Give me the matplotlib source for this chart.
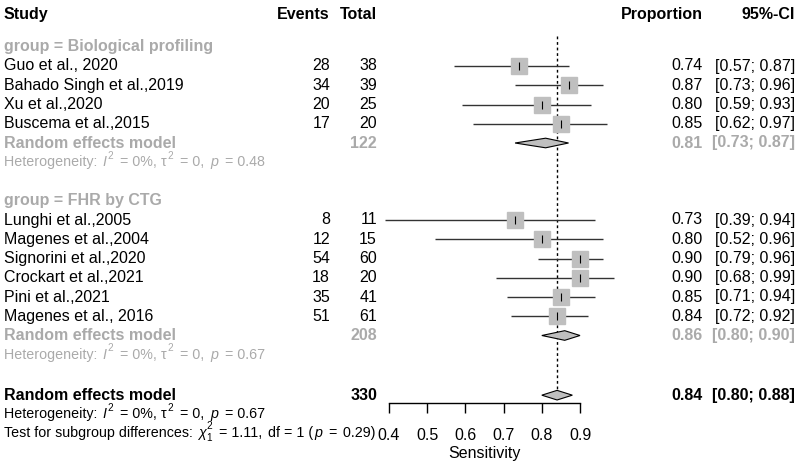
import numpy as np
import matplotlib.pyplot as plt

plt.rcParams['font.family'] = ['Liberation Sans', 'DejaVu Sans']

# group 1: biological profiling
study1 = ["Guo et al., 2020", "Bahado Singh et al.,2019", "Xu et al.,2020", "Buscema et al.,2015"]
events1 = [28, 34, 20, 17]
total1 = [38, 39, 25, 20]
prop1 = [0.74, 0.87, 0.80, 0.85]
lo1 = [0.57, 0.73, 0.59, 0.62]
hi1 = [0.87, 0.96, 0.93, 0.97]
re1 = [0.81, 0.73, 0.87]
n1 = 122
p_het1 = "0.48"

# group 2: FHR by CTG
study2 = ["Lunghi et al.,2005", "Magenes et al.,2004", "Signorini et al.,2020",
          "Crockart et al.,2021", "Pini et al.,2021", "Magenes et al., 2016"]
events2 = [8, 12, 54, 18, 35, 51]
total2 = [11, 15, 60, 20, 41, 61]
prop2 = [0.73, 0.80, 0.90, 0.90, 0.85, 0.84]
lo2 = [0.39, 0.52, 0.79, 0.68, 0.71, 0.72]
hi2 = [0.94, 0.96, 0.96, 0.99, 0.94, 0.92]
re2 = [0.86, 0.80, 0.90]
n2 = 208
p_het2 = "0.67"

# overall
re_all = [0.84, 0.80, 0.88]
n_all = 330
p_het_all = "0.67"
chi2 = "1.11"
df = 1
p_sub = "0.29"

xticks = [0.4, 0.5, 0.6, 0.7, 0.8, 0.9]

W, H = 797, 466
GREY = '#aaaaaa'
BOX = '#bfbfbf'
FS = 11.5
FS_HET = 10.3

fig = plt.figure(figsize=(W / 100, H / 100), dpi=100)
ax = fig.add_axes([0, 0, 1, 1])
# 0.4 -> 389 px, 0.9 -> 580 px ; row r -> 66 + 19.25 r px
sx = (580 - 389) / 0.5
ax.set_xlim(0.4 - 389 / sx, 0.4 + (W - 389) / sx)
ax.set_ylim((H - 66) / 19.25, -66 / 19.25)
ax.patch.set_alpha(0)


def col(xpx):
    return xpx / W


def txt(xpx, r, s, ha='left', color='black', weight='normal', size=FS):
    return ax.text(col(xpx), r, s, ha=ha, va='center', color=color, fontweight=weight,
                   fontsize=size, transform=ax.get_yaxis_transform())


def rich(xpx, r, pieces, color, size=FS_HET):
    """Text made of pieces: (string, kind, pad in px) with kind n / it / sup / supsub."""
    base = txt(xpx, r, pieces[0][0], color=color, size=size)
    prev = base
    small = size * 0.7
    up = size * 0.58
    for s, kind, pad in pieces[1:]:
        dx = pad * 0.72
        kw = dict(xy=(1, 0), xycoords=(prev, base), textcoords='offset points',
                  va='bottom', ha='left', color=color, annotation_clip=False)
        if kind in ('n', 'it'):
            prev = ax.annotate(s, xytext=(dx, 0), fontsize=size,
                               fontstyle='italic' if kind == 'it' else 'normal', **kw)
        elif kind == 'sup':
            prev = ax.annotate(s, xytext=(dx, up), fontsize=small, **kw)
        else:
            sup, sub = s
            ax.annotate(sub, xytext=(dx, -0.2 * size), fontsize=small, **kw)
            prev = ax.annotate(sup, xytext=(dx, up), fontsize=small, **kw)


def ci_str(est, lo, hi):
    return f"{est:.2f}", f"[{lo:.2f}; {hi:.2f}]"


def diamond(r, est, lo, hi):
    h = 0.25
    ax.fill([lo, est, hi, est], [r, r - h, r, r + h], facecolor=BOX,
            edgecolor='black', lw=0.8, zorder=3)


def het(r, p, color):
    rich(4, r, [("Heterogeneity: ", 'n', 0), ("I", 'it', 1), ("2", 'sup', 1.5),
                (" = 0%, ", 'n', 2.5), ("\u03c4", 'n', 0), ("2", 'sup', 1),
                (" = 0, ", 'n', 2.5), ("p", 'it', 2), (" = " + p, 'n', 3)], color)


def group(r0, label, studies, ev, tot, pr, lo, hi, re, n, p):
    txt(4, r0 - 1, label, color=GREY, weight='bold')
    rows = r0 + np.arange(len(studies))
    for r, s, e, t, est, l, h in zip(rows, studies, ev, tot, pr, lo, hi):
        txt(4, r, s)
        txt(330, r, str(e), ha='right')
        txt(377, r, str(t), ha='right')
        a, b = ci_str(est, l, h)
        txt(703, r, a, ha='right')
        txt(795, r, b, ha='right')
    ax.hlines(rows, lo, hi, color='#333333', lw=1, zorder=2)
    ax.plot(pr, rows, 's', ms=11, color=BOX, zorder=3)
    ax.plot(pr, rows, '|', ms=6, mew=0.8, color='black', zorder=4)
    rr = r0 + len(studies)
    txt(4, rr, "Random effects model", color=GREY, weight='bold')
    txt(377, rr, str(n), ha='right', color=GREY, weight='bold')
    a, b = ci_str(*re)
    txt(703, rr, a, ha='right', color=GREY, weight='bold')
    txt(795, rr, b, ha='right', color=GREY, weight='bold')
    diamond(rr, *re)
    het(rr + 1, p, GREY)


# header
hr = -2.7
txt(4, hr, "Study", weight='bold')
txt(330, hr, "Events", ha='right', weight='bold')
txt(377, hr, "Total", ha='right', weight='bold')
txt(703, hr, "Proportion", ha='right', weight='bold')
txt(795, hr, "95%-CI", ha='right', weight='bold')

group(0, "group = Biological profiling", study1, events1, total1, prop1, lo1, hi1, re1, n1, p_het1)
group(8, "group = FHR by CTG", study2, events2, total2, prop2, lo2, hi2, re2, n2, p_het2)

# overall
ro = 17.1
txt(4, ro, "Random effects model", weight='bold')
txt(377, ro, str(n_all), ha='right', weight='bold')
a, b = ci_str(*re_all)
txt(703, ro, a, ha='right', weight='bold')
txt(795, ro, b, ha='right', weight='bold')
diamond(ro, *re_all)
het(ro + 1, p_het_all, 'black')
rich(4, ro + 1.95, [("Test for subgroup differences: ", 'n', 0), ("\u03c7", 'it', 1),
                    (("2", "1"), 'supsub', 0.5), (f" = {chi2},", 'n', 3),
                    (f" df = {df} (", 'n', 2), ("p", 'it', 1), (" =", 'n', 3),
                    (f" {p_sub})", 'n', 2)], 'black')

ax.vlines(re_all[0], -1.55, ro - 0.25, color='black', lw=1, linestyles=(0, (2, 2)), zorder=1)

# x axis
for side in ['top', 'left', 'right']:
    ax.spines[side].set_visible(False)
ax.spines['bottom'].set_position(('data', 17.5))
ax.spines['bottom'].set_bounds(xticks[0], xticks[-1])
ax.spines['bottom'].set_linewidth(1)
ax.set_xticks(xticks)
ax.set_xticklabels([f"{t:.1f}" for t in xticks], fontsize=FS)
ax.tick_params(axis='x', direction='out', length=7.5, width=1, pad=10.5)
ax.yaxis.set_visible(False)
ax.text(np.mean([xticks[0], xticks[-1]]), 20.15, "Sensitivity",
        ha='center', va='center', fontsize=FS)

fig.savefig("out.png", dpi=100)
